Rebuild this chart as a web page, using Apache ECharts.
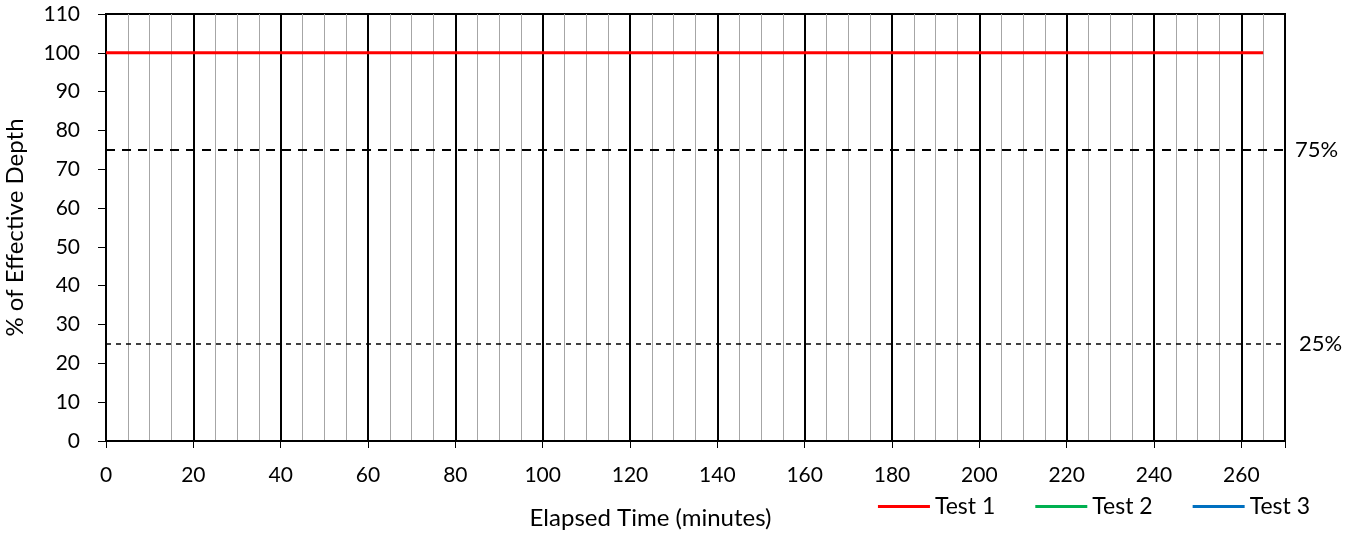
<!DOCTYPE html>
<html><head><meta charset="utf-8">
<script src="https://cdn.jsdelivr.net/npm/echarts@6/dist/echarts.min.js"></script>
<style>html,body{margin:0;padding:0;background:#fff}#c{width:1345px;height:533px}</style>
</head><body><div id="c"></div>
<script>
const times = [0, 265];
const test1 = [100, 100];
const test2 = [];
const test3 = [];
const refLines = [75, 25];
const refLabels = ['75%', '25%'];
const seriesNames = ['Test 1', 'Test 2', 'Test 3'];
const seriesColors = ['#ff0000', '#00b050', '#0070c0'];
const xName = 'Elapsed Time (minutes)';
const yName = '% of Effective Depth';

const FONT = 'Lato, "Open Sans", sans-serif';
const chart = echarts.init(document.getElementById('c'));
const pair = (xs, ys) => ys.map((v, i) => [xs[i], v]);

chart.setOption({
  animation: false,
  textStyle: { fontFamily: FONT },
  grid: { left: 106, right: 60, top: 14, bottom: 92, outerBoundsMode: 'none', containLabel: false,
    show: true, borderColor: '#000', borderWidth: 2, backgroundColor: 'transparent' },
  legend: {
    bottom: 10, right: 30, itemWidth: 52, itemHeight: 3, itemGap: 40,
    textStyle: { fontSize: 23, color: '#000', fontFamily: FONT },
    data: seriesNames.map(n => ({ name: n, icon: 'rect' }))
  },
  xAxis: [
    {
      type: 'value', min: 0, max: 270, interval: 20,
      name: xName, nameLocation: 'middle', nameGap: 65,
      nameTextStyle: { fontSize: 24, color: '#000', fontFamily: FONT, padding: [0, 90, 0, 0] },
      axisLine: { show: true, lineStyle: { color: '#000', width: 2 } },
      axisTick: { show: true, length: 7, lineStyle: { color: '#000', width: 1 } },
      axisLabel: { fontSize: 21, color: '#000', margin: 24, fontFamily: FONT,
        formatter: v => (v % 20 === 0 ? String(v) : '') },
      splitLine: { show: true, lineStyle: { color: '#000', width: 2 } },
      z: 3
    },
    {
      type: 'value', min: 0, max: 270, interval: 5, position: 'bottom',
      axisLine: { show: false }, axisTick: { show: false }, axisLabel: { show: false },
      splitLine: { show: true, lineStyle: { color: '#a6a6a6', width: 1 } }
    }
  ],
  yAxis: {
    type: 'value', min: 0, max: 110, interval: 10,
    name: yName, nameLocation: 'middle', nameGap: 79, nameRotate: 90,
    nameTextStyle: { fontSize: 24, color: '#000', fontFamily: FONT },
    axisLine: { show: true, lineStyle: { color: '#000', width: 2 } },
    axisTick: { show: true, length: 8, lineStyle: { color: '#000', width: 1 } },
    axisLabel: { fontSize: 21, color: '#000', margin: 26, fontFamily: FONT },
    splitLine: { show: false }
  },
  series: [
    {
      name: seriesNames[0], type: 'line', data: pair(times, test1), symbol: 'none',
      color: seriesColors[0], lineStyle: { width: 3 }, z: 5,
      markLine: {
        silent: true, symbol: 'none',
        data: [
          { yAxis: refLines[0], lineStyle: { type: [9, 7], width: 2, color: '#000' },
            label: { formatter: refLabels[0], position: 'end', distance: 10 } },
          { yAxis: refLines[1], lineStyle: { type: [5, 5], width: 1.5, color: '#000' },
            label: { formatter: refLabels[1], position: 'end', distance: 14 } }
        ],
        label: { fontSize: 22, color: '#000', fontFamily: FONT }
      }
    },
    { name: seriesNames[1], type: 'line', data: pair(times, test2), symbol: 'none', color: seriesColors[1], lineStyle: { width: 3 } },
    { name: seriesNames[2], type: 'line', data: pair(times, test3), symbol: 'none', color: seriesColors[2], lineStyle: { width: 3 } }
  ]
});
</script></body></html>
